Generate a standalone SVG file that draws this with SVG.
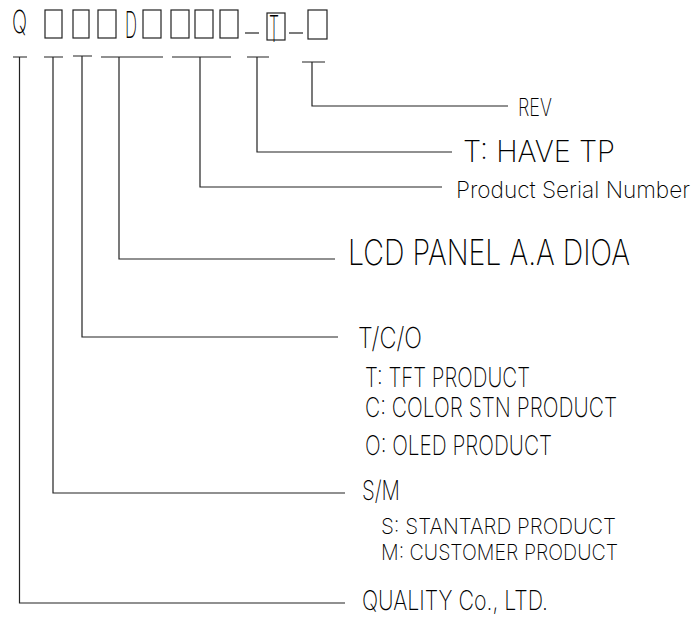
<svg xmlns="http://www.w3.org/2000/svg" width="699" height="617" viewBox="0 0 699 617">
<style>
.t{font-family:"DejaVu Sans ExtraLight","Inter","Liberation Sans Narrow","DejaVu Sans Condensed","Liberation Sans",sans-serif;font-weight:200;fill:#000;}
.c{fill:none;stroke:#222;stroke-width:1.2;}
.b{fill:none;stroke:#222;stroke-width:1.2;}
</style>
<rect width="699" height="617" fill="#fff"/>
<g id="code">
<text class="t" x="12" y="33" font-size="32" textLength="15" lengthAdjust="spacingAndGlyphs">Q</text>
<rect class="b" x="45" y="10" width="17" height="28"/>
<rect class="b" x="73" y="10" width="16" height="28"/>
<rect class="b" x="98" y="10" width="18" height="28"/>
<text class="t" x="125" y="38" font-size="36" textLength="12" lengthAdjust="spacingAndGlyphs">D</text>
<rect class="b" x="143" y="10" width="18" height="28"/>
<rect class="b" x="171" y="10" width="18" height="28"/>
<rect class="b" x="195" y="10" width="18" height="28"/>
<rect class="b" x="220" y="10" width="18" height="28"/>
<line class="b" x1="245" y1="33" x2="259" y2="33"/>
<rect class="b" x="267" y="13" width="18" height="27"/>
<text class="t" x="269" y="42" font-size="37" textLength="10" lengthAdjust="spacingAndGlyphs">T</text>
<line class="b" x1="289" y1="33" x2="303" y2="33"/>
<rect class="b" x="308" y="10" width="19" height="29"/>
</g>
<g id="connectors">
<path class="c" d="M13,57H27M19.5,57V603H345"/>
<path class="c" d="M44,57H63M53,57V493H345"/>
<path class="c" d="M73,56H92M82,56V337H338"/>
<path class="c" d="M101,57H163M119,57V259H335"/>
<path class="c" d="M172,57H231M200,57V187H442"/>
<path class="c" d="M247,57H269M257,57V152H452"/>
<path class="c" d="M302,62H325M312,62V106H508"/>
</g>
<g id="rev"><text class="t" x="518" y="116" font-size="24" textLength="34" lengthAdjust="spacingAndGlyphs">REV</text></g>
<g id="tp"><text class="t" x="463" y="162" font-size="30" textLength="152" lengthAdjust="spacingAndGlyphs">T: HAVE TP</text></g>
<g id="serial"><text class="t" x="456" y="198" font-size="23" textLength="234" lengthAdjust="spacingAndGlyphs">Product Serial Number</text></g>
<g id="lcd"><text class="t" x="348" y="265" font-size="35" textLength="282" lengthAdjust="spacingAndGlyphs">LCD PANEL A.A DIOA</text></g>
<g id="tco">
<text class="t" x="358" y="348" font-size="29" textLength="64" lengthAdjust="spacingAndGlyphs">T/C/O</text>
<text class="t" x="365" y="387" font-size="27" textLength="165" lengthAdjust="spacingAndGlyphs">T: TFT PRODUCT</text>
<text class="t" x="365" y="417" font-size="27" textLength="252" lengthAdjust="spacingAndGlyphs">C: COLOR STN PRODUCT</text>
<text class="t" x="365" y="455" font-size="27" textLength="187" lengthAdjust="spacingAndGlyphs">O: OLED PRODUCT</text>
</g>
<g id="sm">
<text class="t" x="362" y="500" font-size="27" textLength="38" lengthAdjust="spacingAndGlyphs">S/M</text>
<text class="t" x="381" y="534" font-size="22" textLength="235" lengthAdjust="spacingAndGlyphs">S: STANTARD PRODUCT</text>
<text class="t" x="381" y="560" font-size="22" textLength="237" lengthAdjust="spacingAndGlyphs">M: CUSTOMER PRODUCT</text>
</g>
<g id="quality"><text class="t" x="362" y="610" font-size="27" textLength="186" lengthAdjust="spacingAndGlyphs">QUALITY Co., LTD.</text></g>
</svg>
